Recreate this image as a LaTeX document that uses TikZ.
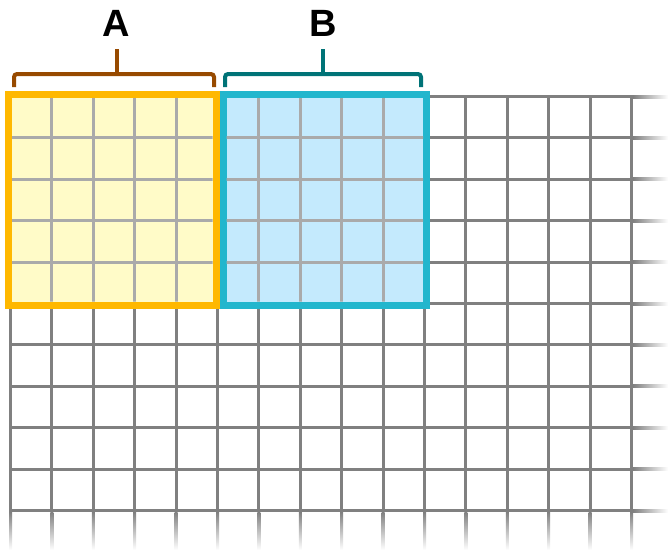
\documentclass[tikz,border=0pt]{standalone}
\usepackage{fontspec}
\setmainfont{Liberation Sans}
\usetikzlibrary{positioning}

\definecolor{gridgray}{HTML}{808080}
\definecolor{innergray}{HTML}{AAAAAA}
\definecolor{borderA}{HTML}{FFB800}
\definecolor{fillA}{HTML}{FFFBC8}
\definecolor{borderB}{HTML}{22B6CD}
\definecolor{fillB}{HTML}{C4EAFD}
\definecolor{braceA}{HTML}{974A00}
\definecolor{braceB}{HTML}{007377}

\tikzset{
	gridline/.style={gridgray, line width=3pt},
	innerline/.style={innergray, line width=3pt},
	block/.style={rectangle, inner sep=0pt, line width=7pt, minimum height=210.5pt},
	bracket/.style={line width=4pt, rounded corners=3pt},
	tag/.style={inner sep=12.5pt, font=\fontsize{38}{38}\selectfont\bfseries}
}

\begin{document}
\begin{tikzpicture}[x=1pt, y=-1pt]
	\useasboundingbox (0,0) rectangle (668,550);

	% grid
	\foreach \i in {0,...,15} {
		\draw[gridline] (10.5+41.4*\i,95) -- (10.5+41.4*\i,512);
		\shade[top color=gridgray, bottom color=white] (9+41.4*\i,512) rectangle (12+41.4*\i,550);
	}
	\foreach \j in {0,...,10} {
		\draw[gridline] (9,96.5+41.4*\j) -- (633,96.5+41.4*\j);
		\shade[left color=gridgray, right color=white] (633,95+41.4*\j) rectangle (668,98+41.4*\j);
	}

	% blocks
	\node[block, draw=borderA, fill=fillA, minimum width=207.5pt] (boxA) at (112.25,199.75) {};
	\node[block, draw=borderB, fill=fillB, minimum width=203.5pt, right=0pt of boxA] (boxB) {};

	\begin{scope}
		\clip ([shift={(7pt,7pt)}]boxA.south west) rectangle ([shift={(-7pt,-7pt)}]boxA.north east)
		      ([shift={(7pt,7pt)}]boxB.south west) rectangle ([shift={(-7pt,-7pt)}]boxB.north east);
		\foreach \i in {1,...,9}
			\draw[innerline] (10.5+41.4*\i,90) -- (10.5+41.4*\i,310);
		\foreach \j in {1,...,4}
			\draw[innerline] (0,96.5+41.4*\j) -- (440,96.5+41.4*\j);
	\end{scope}

	% brackets
	\coordinate (tipA) at (116.5,74);
	\coordinate (tipB) at (323,74);
	\node[tag, above=25pt of tipA] (labA) {A};
	\node[tag, above=25pt of tipB] (labB) {B};

	\draw[bracket, braceA] (14,87) |- (214,74) -- (214,87);
	\draw[bracket, braceA] (tipA) -- (labA);
	\draw[bracket, braceB] (225,87) |- (421,74) -- (421,87);
	\draw[bracket, braceB] (tipB) -- (labB);
\end{tikzpicture}
\end{document}
